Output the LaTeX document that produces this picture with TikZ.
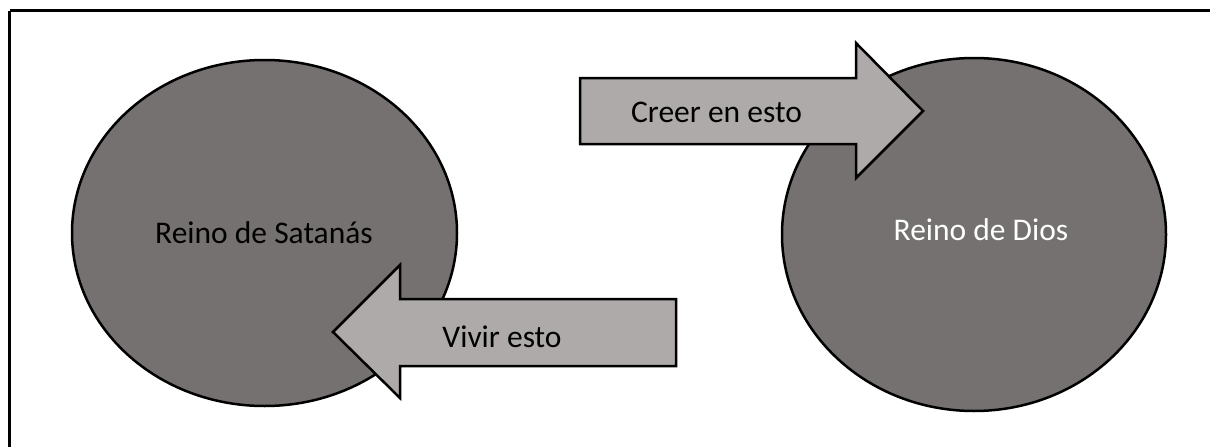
\documentclass[tikz,border=0pt]{standalone}
\usepackage{fontspec}
\setmainfont{Carlito}
\usetikzlibrary{shapes.geometric}
\definecolor{kingdomgray}{HTML}{767171}
\definecolor{arrowgray}{HTML}{AEAAAA}
\tikzset{
  kingdom/.style={ellipse, draw=black, line width=2.5pt, fill=kingdomgray, inner sep=0pt},
  bigarrow/.style={draw=black, line width=2.5pt, fill=arrowgray, line join=miter},
  frame/.style={draw=black, line width=3.5pt},
  txt/.style={font=\fontsize{31.5}{38}\selectfont, anchor=base, inner sep=0pt}
}
\begin{document}
\begin{tikzpicture}[x=1pt,y=-1pt]
\useasboundingbox (0,0) rectangle (1210,447);
\draw[frame] (9.5,10.5) -- (1300,10.5);
\draw[frame] (9.5,10.5) -- (9.5,500);
% ellipses
\node[kingdom, minimum width=385pt, minimum height=346pt] (satanas) at (264.5,233) {};
\node[kingdom, minimum width=384pt, minimum height=353pt] (dios) at (974,234.5) {};
% arrows
\draw[bigarrow] (580,78) -- (856,78) -- (856,43) -- (923,111) -- (856,178) -- (856,144) -- (580,144) -- cycle;
\draw[bigarrow] (676,299) -- (400,299) -- (400,265) -- (333,332) -- (400,398) -- (400,366) -- (676,366) -- cycle;
% texts
\node[txt, text=black] (tsatanas) at (264,243) {Reino de Satanás};
\node[txt, text=white] (tdios) at (981,240) {Reino de Dios};
\node[txt, text=black] (tcreer) at (716.5,122) {Creer en esto};
\node[txt, text=black] (tvivir) at (502,347) {Vivir esto};
\end{tikzpicture}
\end{document}
